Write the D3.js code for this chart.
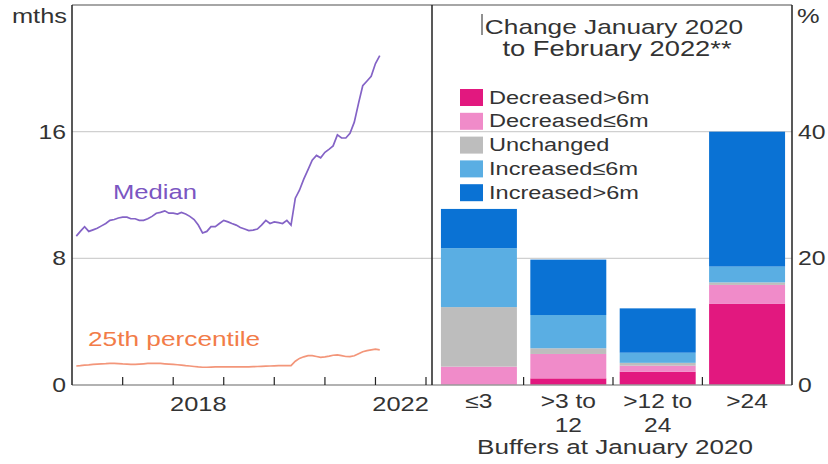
<!DOCTYPE html>
<html><head><meta charset="utf-8">
<script src="https://cdn.jsdelivr.net/npm/d3@7"></script>
<style>html,body{margin:0;padding:0;background:#fff;}svg{display:block;}</style>
</head><body>
<svg id="chart" width="828" height="464"></svg>
<script>
// ---- Data ----
const medianStart = "2016-02"; // first monthly observation
const medianValues = [9.4,9.7,10.0,9.7,9.8,9.9,10.05,10.2,10.4,10.45,10.55,10.6,
  10.6,10.5,10.5,10.4,10.4,10.5,10.65,10.85,10.9,11.0,10.85,10.85,
  10.8,10.9,10.8,10.65,10.45,10.1,9.6,9.7,10.0,10.0,10.2,10.4,
  10.3,10.2,10.1,9.95,9.85,9.75,9.78,9.85,10.1,10.4,10.2,10.3,
  10.25,10.2,10.4,10.1,11.8,12.3,13.0,13.6,14.2,14.5,14.35,14.7,
  14.9,15.1,15.8,15.6,15.6,15.9,16.6,17.8,18.9,19.2,19.5,20.3,20.8];
const p25Values = [1.2,1.22,1.25,1.27,1.3,1.32,1.34,1.35,1.37,1.37,
  1.35,1.33,1.32,1.3,1.3,1.32,1.34,1.36,1.37,1.37,1.36,1.34,1.32,1.3,
  1.28,1.25,1.22,1.2,1.17,1.14,1.12,1.12,1.13,1.14,1.15,1.15,
  1.15,1.15,1.14,1.14,1.14,1.15,1.16,1.17,1.18,1.19,1.2,1.21,1.22,1.22,1.22,1.22,
  1.5,1.68,1.78,1.85,1.85,1.8,1.75,1.78,1.82,1.88,1.9,1.85,1.8,1.79,1.85,1.98,2.1,2.17,2.22,2.26,2.22];
const leftTicks = [0, 8, 16];
const rightTicks = [0, 20, 40];
const yearLabels = [2018, 2022];

const categories = [["≤3"], [">3 to", "12"], [">12 to", "24"], [">24"]];
const seriesNames = ["Decreased>6m", "Decreased≤6m", "Unchanged", "Increased≤6m", "Increased>6m"];
const decreasedOver6 = [0, 1.05, 2.1, 12.8];
const decreasedUnder6 = [2.9, 3.85, 0.95, 3.0];
const unchanged = [9.4, 0.9, 0.45, 0.4];
const increasedUnder6 = [9.3, 5.25, 1.6, 2.5];
const increasedOver6 = [6.2, 8.75, 7.0, 21.3];
const seriesColors = ["#e2187f", "#f08bc9", "#bdbdbd", "#5aaee3", "#0a72d4"];

// ---- Setup ----
const svg = d3.select("#chart");
const FONT = "'Liberation Sans', Arial, sans-serif";
const SX = 1.24;
const TXT = "#333";
const yTop = 5, yBot = 385;
const lx0 = 72, lx1 = 432, rx1 = 792;

function text(x, y, s, o = {}) {
  return svg.append("text")
    .attr("transform", `translate(${x},${y}) scale(${o.sx || SX},1)`)
    .attr("text-anchor", o.anchor || "start")
    .attr("font-family", FONT)
    .attr("font-size", o.size || 20.5)
    .attr("fill", o.color || TXT)
    .text(s);
}

const parse = d3.timeParse("%Y-%m");
const t0 = parse(medianStart);
const dates = medianValues.map((_, i) => d3.timeMonth.offset(t0, i));

const x = d3.scaleTime().domain([new Date(2016, 0, 1), new Date(2023, 0, 1)]).range([lx0, 426]);
const yL = d3.scaleLinear().domain([0, 24]).range([yBot, yTop]);
const yR = d3.scaleLinear().domain([0, 60]).range([yBot, yTop]);
const xb = d3.scaleBand().domain(d3.range(categories.length)).range([lx1, rx1 + 2]).paddingInner(0.15).paddingOuter(0.1);

// gridlines
svg.append("g").selectAll("line").data(leftTicks.filter(d => d > 0)).join("line")
  .attr("x1", lx0).attr("x2", rx1).attr("y1", d => yL(d)).attr("y2", d => yL(d))
  .attr("stroke", "#d0d0d0").attr("stroke-width", 1.2);

// bars
const stackData = categories.map((c, i) => ({
  i, v: [decreasedOver6[i], decreasedUnder6[i], unchanged[i], increasedUnder6[i], increasedOver6[i]]
}));
const stack = d3.stack().keys(d3.range(5)).value((d, k) => d.v[k]);
const layers = stack(stackData);
svg.append("g").selectAll("g").data(layers).join("g")
  .attr("fill", (d, k) => seriesColors[k])
  .selectAll("rect").data(d => d).join("rect")
  .attr("x", d => xb(d.data.i)).attr("width", xb.bandwidth())
  .attr("y", d => yR(d[1])).attr("height", d => Math.max(0, yR(d[0]) - yR(d[1])));

// bottom axis line
svg.append("line").attr("x1", lx0).attr("x2", rx1).attr("y1", yBot).attr("y2", yBot)
  .attr("stroke", "#999").attr("stroke-width", 1.5);
// top border
svg.append("line").attr("x1", lx0).attr("x2", rx1).attr("y1", yTop).attr("y2", yTop)
  .attr("stroke", "#888").attr("stroke-width", 1.5);
// verticals
[lx0, lx1, rx1].forEach(xx => svg.append("line").attr("x1", xx).attr("x2", xx).attr("y1", yTop).attr("y2", yBot)
  .attr("stroke", "#222").attr("stroke-width", 1.5));

// year ticks (inward)
const years = d3.timeYear.range(new Date(2017, 0, 1), new Date(2023, 0, 2));
svg.append("g").selectAll("line").data(years).join("line")
  .attr("x1", d => x(d)).attr("x2", d => x(d)).attr("y1", yBot).attr("y2", yBot - 8)
  .attr("stroke", "#222").attr("stroke-width", 1.2);
// category boundary ticks
const bounds = d3.range(1, categories.length).map(i => xb(i) - xb.step() * xb.paddingInner() / 2);
svg.append("g").selectAll("line").data(bounds).join("line")
  .attr("x1", d => d).attr("x2", d => d).attr("y1", yBot).attr("y2", yBot - 8)
  .attr("stroke", "#222").attr("stroke-width", 1.2);

// lines
const line = d3.line().x((d, i) => x(dates[i])).y(d => yL(d));
svg.append("path").datum(medianValues).attr("d", line).attr("fill", "none")
  .attr("stroke", "#8463c6").attr("stroke-width", 1.7);
svg.append("path").datum(p25Values).attr("d", line).attr("fill", "none")
  .attr("stroke", "#f3967a").attr("stroke-width", 1.7);

// line labels
text(113, 199, "Median", { color: "#7b56c2", size: 20.5, sx: 1.25 });
text(88, 346, "25th percentile", { color: "#f27c48", size: 21, sx: 1.25 });

// y-axis labels
text(67, 23, "mths", { anchor: "end" });
leftTicks.forEach(t => text(66, yL(t) + 7, String(t), { anchor: "end", size: 20 }));
text(797, 23, "%");
rightTicks.forEach(t => text(798, yR(t) + 7, String(t), { size: 20 }));

// x labels left
yearLabels.forEach(yr => text(x(new Date(yr, 6, 1)), 411, String(yr), { anchor: "middle", size: 20.5 }));

// category labels
categories.forEach((c, i) => {
  const cx = xb(i) + xb.bandwidth() / 2;
  c.forEach((s, j) => text(cx, 408 + j * 23.5, s, { anchor: "middle", size: 19.5, sx: 1.26 }));
});
text(615, 454, "Buffers at January 2020", { anchor: "middle", size: 20.5, sx: 1.27 });

// panel title
text(614, 34, "Change January 2020", { anchor: "middle", size: 21, sx: 1.25 });
text(617, 56, "to February 2022**", { anchor: "middle", size: 21.5, sx: 1.27 });
svg.append("line").attr("x1", 482).attr("x2", 482).attr("y1", 14).attr("y2", 35)
  .attr("stroke", "#222").attr("stroke-width", 1);

// legend
const legendOrder = [0, 1, 2, 3, 4];
legendOrder.forEach((k, r) => {
  const cy = 97 + r * 23.8;
  svg.append("rect").attr("x", 460).attr("y", cy - 8).attr("width", 23).attr("height", 17).attr("fill", seriesColors[k]);
  text(489, cy + 6.5, seriesNames[k], { size: 19, sx: 1.24 });
});
</script>
</body></html>
